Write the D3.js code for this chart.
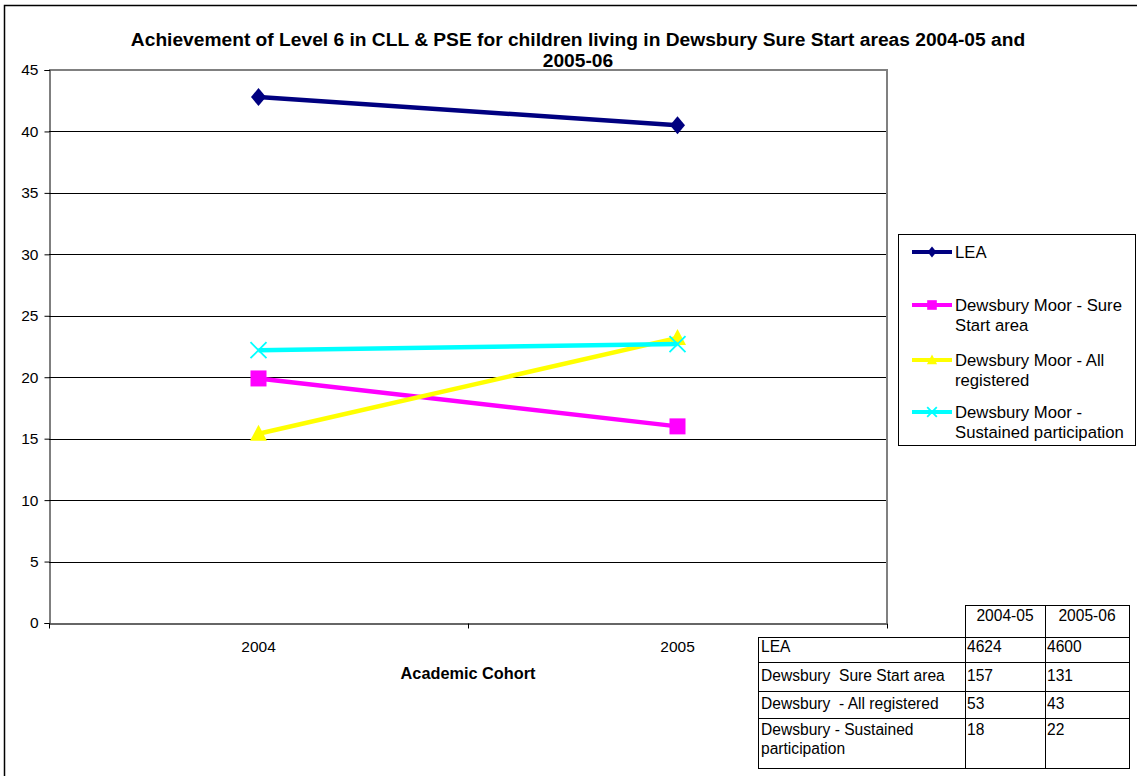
<!DOCTYPE html>
<html>
<head>
<meta charset="utf-8">
<script src="https://cdn.jsdelivr.net/npm/d3@7"></script>
<style>
  html, body { margin: 0; padding: 0; background: #fff; }
  svg { display: block; }
  text { font-family: Arial, "Liberation Sans", sans-serif; fill: #000; }
</style>
</head>
<body>
<svg id="chart" width="1137" height="776"></svg>
<script>
// ---------- DATA ----------
const categories = ["2004", "2005"];
const seriesNames = [
  "LEA",
  "Dewsbury Moor - Sure Start area",
  "Dewsbury Moor - All registered",
  "Dewsbury Moor - Sustained participation"
];
const legendLines = [
  ["LEA"],
  ["Dewsbury Moor - Sure", "Start area"],
  ["Dewsbury Moor - All", "registered"],
  ["Dewsbury Moor -", "Sustained participation"]
];
const leaValues = [42.8, 40.5];
const sureStartValues = [19.9, 16.0];
const allRegisteredValues = [15.4, 23.2];
const sustainedValues = [22.2, 22.7];
const yTicks = [0, 5, 10, 15, 20, 25, 30, 35, 40, 45];
const seriesColors = ["#000080", "#FF00FF", "#FFFF00", "#00FFFF"];
const seriesMarkers = ["diamond", "square", "triangle", "x"];

const titleLines = [
  "Achievement of Level 6 in CLL & PSE for children living in Dewsbury Sure Start areas 2004-05 and",
  "2005-06"
];
const xAxisTitle = "Academic Cohort";

const tableHeaders = ["2004-05", "2005-06"];
const tableRowLabels = [
  ["LEA"],
  ["Dewsbury  Sure Start area"],
  ["Dewsbury  - All registered"],
  ["Dewsbury - Sustained", "participation"]
];
const table2004 = ["4624", "157", "53", "18"];
const table2005 = ["4600", "131", "43", "22"];

// ---------- SETUP ----------
const svg = d3.select("#chart");
const FONT = 'Arial, "Liberation Sans", sans-serif';

// outer chart border (extends past the viewport right/bottom)
svg.append("rect")
  .attr("x", 4.5).attr("y", 5.5)
  .attr("width", 1300).attr("height", 900)
  .attr("fill", "#fff").attr("stroke", "#000").attr("stroke-width", 1.5);

const plot = { left: 49, right: 887, top: 70, bottom: 623 };

const x = d3.scaleBand().domain(categories).range([plot.left, plot.right]);
const y = d3.scaleLinear().domain([0, 45]).range([plot.bottom, plot.top]);
const cx = c => x(c) + x.bandwidth() / 2;

// gridlines
svg.append("g")
  .selectAll("line")
  .data(yTicks.filter(t => t > 0 && t < 45))
  .join("line")
  .attr("x1", plot.left).attr("x2", plot.right)
  .attr("y1", d => Math.round(y(d)) + 0.5).attr("y2", d => Math.round(y(d)) + 0.5)
  .attr("stroke", "#000").attr("stroke-width", 1);

// plot area border top/right (gray)
svg.append("path")
  .attr("d", `M${plot.left},${y(45)} H${plot.right} V${plot.bottom}`)
  .attr("fill", "none").attr("stroke", "#808080").attr("stroke-width", 2);

// y axis
const yAxis = d3.axisLeft(y).tickValues(yTicks).tickSize(5).tickPadding(6).tickFormat(d3.format("d"));
const gy = svg.append("g").attr("transform", `translate(${plot.left + 0.5},0)`).call(yAxis);
gy.select(".domain").attr("stroke", "#000").attr("stroke-width", 1);
gy.selectAll(".tick line").attr("stroke", "#000");
gy.selectAll(".tick text").attr("font-family", FONT).attr("font-size", 15.5).attr("fill", "#000");

// x axis
const xAxis = d3.axisBottom(x).tickSize(0).tickPadding(17);
const gx = svg.append("g").attr("transform", `translate(0,${plot.bottom + 0.5})`).call(xAxis);
gx.select(".domain").attr("stroke", "#333").attr("stroke-width", 1.5);
gx.selectAll(".tick text").attr("font-family", FONT).attr("font-size", 15.5).attr("fill", "#000");
// category boundary ticks
const bounds = categories.map(c => x(c)).concat([x(categories[categories.length - 1]) + x.bandwidth()]);
gx.selectAll(".bound").data(bounds).join("line")
  .attr("class", "bound")
  .attr("x1", d => Math.round(d) + 0.5).attr("x2", d => Math.round(d) + 0.5)
  .attr("y1", 0).attr("y2", 5)
  .attr("stroke", "#000");

// x axis title
svg.append("text")
  .attr("x", (plot.left + plot.right) / 2).attr("y", 679)
  .attr("text-anchor", "middle")
  .attr("font-size", 16.3).attr("font-weight", "bold")
  .text(xAxisTitle);

// title
svg.append("g").selectAll("text").data(titleLines).join("text")
  .attr("x", 578).attr("y", (d, i) => 46 + i * 21)
  .attr("text-anchor", "middle")
  .attr("font-size", 19.2).attr("font-weight", "bold")
  .text(d => d);

// ---------- SERIES ----------
const allValues = [leaValues, sureStartValues, allRegisteredValues, sustainedValues];
const seriesData = seriesNames.map((name, i) => ({
  name, color: seriesColors[i], marker: seriesMarkers[i],
  points: categories.map((c, j) => ({ c, v: allValues[i][j] }))
}));

function drawMarker(g, type, color, s) {
  if (type === "diamond") {
    g.append("path").attr("d", `M0,${-9*s} L${7.5*s},0 L0,${9*s} L${-7.5*s},0 Z`).attr("fill", color);
  } else if (type === "square") {
    g.append("rect").attr("x", -8*s).attr("y", -8*s).attr("width", 16*s).attr("height", 16*s).attr("fill", color);
  } else if (type === "triangle") {
    g.append("path").attr("d", `M0,${-9*s} L${8.5*s},${7*s} L${-8.5*s},${7*s} Z`).attr("fill", color);
  } else if (type === "x") {
    g.append("path").attr("d", `M${-8*s},${-8*s} L${8*s},${8*s} M${8*s},${-8*s} L${-8*s},${8*s}`)
      .attr("stroke", color).attr("stroke-width", 1.8).attr("fill", "none");
  }
}

const line = d3.line().x(d => cx(d.c)).y(d => y(d.v));
seriesData.forEach(s => {
  const g = svg.append("g");
  g.append("path").datum(s.points).attr("d", line)
    .attr("fill", "none").attr("stroke", s.color).attr("stroke-width", 4.5);
  s.points.forEach(p => {
    const mg = g.append("g").attr("transform", `translate(${cx(p.c)},${y(p.v)})`);
    drawMarker(mg, s.marker, s.color, 1);
  });
});

// ---------- LEGEND ----------
const legend = svg.append("g");
legend.append("rect")
  .attr("x", 898.5).attr("y", 234.5).attr("width", 237).attr("height", 211)
  .attr("fill", "#fff").attr("stroke", "#000").attr("stroke-width", 1);
const legendY = [252, 305, 360, 412];
seriesData.forEach((s, i) => {
  const ly = legendY[i];
  legend.append("line").attr("x1", 912).attr("x2", 952).attr("y1", ly).attr("y2", ly)
    .attr("stroke", s.color).attr("stroke-width", 4);
  const mg = legend.append("g").attr("transform", `translate(932,${ly})`);
  drawMarker(mg, s.marker, s.color, 0.6);
  legend.append("text")
    .attr("x", 955).attr("y", ly + 6)
    .attr("font-size", 16.7)
    .selectAll("tspan").data(legendLines[i]).join("tspan")
    .attr("x", 955).attr("dy", (d, k) => k === 0 ? 0 : 19.5)
    .text(d => d);
});

// ---------- TABLE ----------
const tbl = svg.append("g");
const colX = [758, 965, 1045, 1129];
const headerTop = 605, rowY = [637, 662, 691, 718, 768];
// header cells
tbl.append("rect").attr("x", colX[1] + 0.5).attr("y", headerTop + 0.5)
  .attr("width", colX[3] - colX[1]).attr("height", rowY[0] - headerTop)
  .attr("fill", "#fff").attr("stroke", "#000");
tbl.append("line").attr("x1", colX[2] + 0.5).attr("x2", colX[2] + 0.5)
  .attr("y1", headerTop).attr("y2", rowY[0]).attr("stroke", "#000");
tbl.selectAll(".hdr").data(tableHeaders).join("text")
  .attr("class", "hdr")
  .attr("x", (d, i) => (colX[i + 1] + colX[i + 2]) / 2)
  .attr("y", headerTop + 16)
  .attr("text-anchor", "middle").attr("font-size", 15.6)
  .text(d => d);
// body
tbl.append("rect").attr("x", colX[0] + 0.5).attr("y", rowY[0] + 0.5)
  .attr("width", colX[3] - colX[0]).attr("height", rowY[4] - rowY[0])
  .attr("fill", "#fff").attr("stroke", "#000");
rowY.slice(1, 4).forEach(ry => {
  tbl.append("line").attr("x1", colX[0]).attr("x2", colX[3])
    .attr("y1", ry + 0.5).attr("y2", ry + 0.5).attr("stroke", "#000");
});
[colX[1], colX[2]].forEach(cxl => {
  tbl.append("line").attr("x1", cxl + 0.5).attr("x2", cxl + 0.5)
    .attr("y1", rowY[0]).attr("y2", rowY[4]).attr("stroke", "#000");
});
const rowBase = [652, 681, 709, 735];
tableRowLabels.forEach((lbls, r) => {
  tbl.append("text").attr("x", colX[0] + 3).attr("y", rowBase[r]).attr("font-size", 15.6)
    .selectAll("tspan").data(lbls).join("tspan")
    .attr("x", colX[0] + 3).attr("dy", (d, k) => k === 0 ? 0 : 19)
    .text(d => d);
  tbl.append("text").attr("x", colX[1] + 2).attr("y", rowBase[r]).attr("font-size", 15.6).text(table2004[r]);
  tbl.append("text").attr("x", colX[2] + 2).attr("y", rowBase[r]).attr("font-size", 15.6).text(table2005[r]);
});
svg.selectAll("text").attr("font-family", FONT).style("white-space", "pre");
</script>
</body>
</html>
